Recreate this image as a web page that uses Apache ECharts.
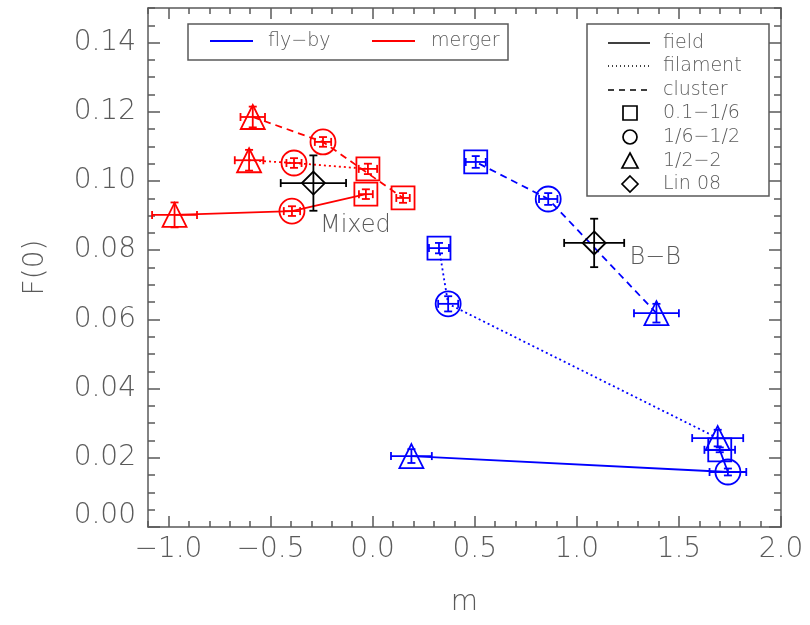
<!DOCTYPE html>
<html>
<head>
<meta charset="utf-8">
<script src="https://cdn.jsdelivr.net/npm/echarts@6/dist/echarts.min.js"></script>
<style>
  html, body { margin: 0; background: #fff; }
  #chart { width: 810px; height: 625px; }
</style>
</head>
<body>
<div id="chart"></div>
<script>
// each row: [m, F(0), m error, F(0) error]
// row order along a line: 1/2-2 (triangle), 1/6-1/2 (circle), 0.1-1/6 (square)
const binSymbols = ['triangle', 'circle', 'rect'];
const binSizes = [24, 25, 23];

const flybyField    = [[0.19, 0.0205, 0.100, 0.0020], [1.74, 0.0159, 0.090, 0.0010], [1.70, 0.0223, 0.075, 0.0007]];
const flybyFilament = [[1.69, 0.0257, 0.125, 0.0024], [0.37, 0.0645, 0.049, 0.0022], [0.325, 0.0806, 0.049, 0.0015]];
const flybyCluster  = [[1.39, 0.0618, 0.110, 0.0027], [0.86, 0.0948, 0.045, 0.0017], [0.505, 0.1055, 0.049, 0.0017]];

const mergerField    = [[-0.97, 0.0902, 0.110, 0.0036], [-0.395, 0.0913, 0.040, 0.0014], [-0.033, 0.0962, 0.034, 0.0014]];
const mergerFilament = [[-0.605, 0.1060, 0.070, 0.0030], [-0.385, 0.1052, 0.037, 0.0014], [-0.023, 0.1035, 0.045, 0.0015]];
const mergerCluster  = [[-0.587, 0.1185, 0.060, 0.0030], [-0.243, 0.1113, 0.040, 0.0014], [0.149, 0.0951, 0.033, 0.0014]];

// Lin 08 points
const lin08Names = ['Mixed', 'B−B'];
const lin08 = [[-0.29, 0.0994, 0.160, 0.0080], [1.085, 0.0821, 0.147, 0.0070]];

const xTicks = [-1.0, -0.5, 0.0, 0.5, 1.0, 1.5, 2.0];
const yTicks = [0.00, 0.02, 0.04, 0.06, 0.08, 0.10, 0.12, 0.14];

const BLUE = '#0000ff', RED = '#ff0000', INK = '#5a5a5a';
const FONT = "'DejaVu Sans', sans-serif";
const LW = 1.8;

const chart = echarts.init(document.getElementById('chart'));

function lineSeries(rows, color, type) {
  return {
    type: 'line', data: rows.map(r => [r[0], r[1]]), showSymbol: false, silent: true, z: 2,
    lineStyle: { color: color, width: LW, type: type }
  };
}

function markerSeries(rows, color) {
  return {
    type: 'scatter', z: 3, silent: true,
    data: rows.map((r, i) => ({ value: [r[0], r[1]], symbol: binSymbols[i], symbolSize: binSizes[i] })),
    itemStyle: { color: 'rgba(0,0,0,0)', borderColor: color, borderWidth: LW, opacity: 1 }
  };
}

function errorSeries(rows, color) {
  return {
    type: 'custom', z: 4, silent: true, data: rows,
    renderItem: function (params, api) {
      const x = api.value(0), y = api.value(1), xe = api.value(2), ye = api.value(3);
      const c = api.coord([x, y]);
      const l = api.coord([x - xe, y])[0], r = api.coord([x + xe, y])[0];
      const t = api.coord([x, y + ye])[1], b = api.coord([x, y - ye])[1];
      const cap = 4;
      const style = { stroke: color, lineWidth: LW };
      const seg = (x1, y1, x2, y2) => ({ type: 'line', shape: { x1, y1, x2, y2 }, style });
      return {
        type: 'group', children: [
          seg(l, c[1], r, c[1]),
          seg(l, c[1] - cap, l, c[1] + cap),
          seg(r, c[1] - cap, r, c[1] + cap),
          seg(c[0], t, c[0], b),
          seg(c[0] - cap, t, c[0] + cap, t),
          seg(c[0] - cap, b, c[0] + cap, b)
        ]
      };
    }
  };
}

const lineStyleInk = { color: INK, width: 1.5 };
const labelFont = { fontFamily: FONT, fontSize: 28, fontWeight: 200, color: INK };

function minorX(pos) {
  return {
    type: 'value', position: pos, min: -1.1, max: 2.0, interval: 0.1,
    axisLine: { show: true, onZero: false, lineStyle: lineStyleInk },
    axisTick: { show: true, inside: true, length: 6, lineStyle: lineStyleInk },
    axisLabel: { show: false }, splitLine: { show: false }
  };
}
function majorX(pos, labels) {
  return {
    type: 'value', position: pos, min: -1.1, max: 2.0,
    axisLine: { show: false, onZero: false },
    axisTick: { show: true, inside: true, length: 11, customValues: xTicks, lineStyle: lineStyleInk },
    axisLabel: Object.assign({
      show: labels, customValues: xTicks, margin: 9,
      formatter: v => (v < 0 ? '−' : '') + Math.abs(v).toFixed(1)
    }, labelFont),
    splitLine: { show: false },
    name: labels ? 'm' : '', nameLocation: 'middle', nameGap: 62,
    nameTextStyle: labelFont
  };
}
function minorY(pos) {
  return {
    type: 'value', position: pos, min: 0, max: 0.15, interval: 0.005,
    axisLine: { show: true, onZero: false, lineStyle: lineStyleInk },
    axisTick: { show: true, inside: true, length: 7, lineStyle: lineStyleInk },
    axisLabel: { show: false }, splitLine: { show: false }
  };
}
function majorY(pos, labels) {
  return {
    type: 'value', position: pos, min: 0, max: 0.15,
    axisLine: { show: false, onZero: false },
    axisTick: { show: true, inside: true, length: 12, customValues: yTicks, lineStyle: lineStyleInk },
    axisLabel: Object.assign({
      show: labels, customValues: yTicks, margin: 12,
      formatter: v => v === 0 ? '{lo|0.00}' : v.toFixed(2),
      rich: { lo: Object.assign({ padding: [0, 0, 22, 0] }, labelFont) }
    }, labelFont),
    splitLine: { show: false },
    name: labels ? 'F(0)' : '', nameLocation: 'middle', nameGap: 98,
    nameTextStyle: labelFont
  };
}

const legendText = { fontFamily: FONT, fontSize: 19, fontWeight: 200, fill: INK, verticalAlign: 'middle' };
const legendRows = [43, 66, 90, 113, 137, 161, 184];
function legendLabel(x, y, text) {
  return { type: 'text', x: x, y: y, style: Object.assign({ text: text }, legendText) };
}
function legendLine(y, dash) {
  return { type: 'line', shape: { x1: 608, y1: y, x2: 650, y2: y }, style: { stroke: '#000', lineWidth: 1.5, lineDash: dash } };
}
const sym = { stroke: '#000', lineWidth: 1.7, fill: 'none' };
const cx = 630;

const graphics = [
  { type: 'rect', shape: { x: 188, y: 24, width: 320, height: 36 }, style: { stroke: INK, lineWidth: 1.5, fill: 'none' } },
  { type: 'line', shape: { x1: 210, y1: 41, x2: 253, y2: 41 }, style: { stroke: BLUE, lineWidth: LW } },
  legendLabel(268, 41, 'fly−by'),
  { type: 'line', shape: { x1: 372, y1: 41, x2: 415, y2: 41 }, style: { stroke: RED, lineWidth: LW } },
  legendLabel(431, 41, 'merger'),

  { type: 'rect', shape: { x: 587, y: 24, width: 182, height: 172 }, style: { stroke: INK, lineWidth: 1.5, fill: 'none' } },
  legendLine(legendRows[0], null), legendLabel(663, legendRows[0], 'field'),
  legendLine(legendRows[1], [1, 3]), legendLabel(663, legendRows[1], 'filament'),
  legendLine(legendRows[2], [6, 5]), legendLabel(663, legendRows[2], 'cluster'),
  { type: 'rect', shape: { x: cx - 7, y: legendRows[3] - 7, width: 14, height: 14 }, style: sym },
  legendLabel(663, legendRows[3], '0.1−1/6'),
  { type: 'circle', shape: { cx: cx, cy: legendRows[4], r: 7 }, style: sym },
  legendLabel(663, legendRows[4], '1/6−1/2'),
  { type: 'polygon', shape: { points: [[cx, legendRows[5] - 8], [cx + 8, legendRows[5] + 7], [cx - 8, legendRows[5] + 7]] }, style: sym },
  legendLabel(663, legendRows[5], '1/2−2'),
  { type: 'polygon', shape: { points: [[cx, legendRows[6] - 8], [cx + 8, legendRows[6]], [cx, legendRows[6] + 8], [cx - 8, legendRows[6]]] }, style: sym },
  legendLabel(663, legendRows[6], 'Lin 08')
];

const option = {
  animation: false,
  backgroundColor: '#fff',
  grid: { left: 148, right: 29, top: 8, bottom: 98, containLabel: false },
  xAxis: [minorX('bottom'), majorX('bottom', true), minorX('top'), majorX('top', false)],
  yAxis: [minorY('left'), majorY('left', true), minorY('right'), majorY('right', false)],
  graphic: graphics,
  series: [
    lineSeries(flybyField, BLUE, 'solid'),
    lineSeries(flybyFilament, BLUE, [2, 3]),
    lineSeries(flybyCluster, BLUE, [7, 5]),
    lineSeries(mergerField, RED, 'solid'),
    lineSeries(mergerFilament, RED, [2, 3]),
    lineSeries(mergerCluster, RED, [7, 5]),
    markerSeries(flybyField, BLUE), markerSeries(flybyFilament, BLUE), markerSeries(flybyCluster, BLUE),
    markerSeries(mergerField, RED), markerSeries(mergerFilament, RED), markerSeries(mergerCluster, RED),
    {
      type: 'scatter', z: 3, silent: true, symbol: 'diamond', symbolSize: 23,
      data: lin08.map((r, i) => ({
        name: lin08Names[i], value: [r[0], r[1]],
        label: { offset: i === 0 ? [42, 43] : [61, 15] }
      })),
      itemStyle: { color: 'rgba(0,0,0,0)', borderColor: '#000', borderWidth: LW, opacity: 1 },
      label: { show: true, position: 'inside', formatter: '{b}', fontFamily: FONT, fontSize: 24, fontWeight: 200, color: INK }
    },
    errorSeries(flybyField, BLUE), errorSeries(flybyFilament, BLUE), errorSeries(flybyCluster, BLUE),
    errorSeries(mergerField, RED), errorSeries(mergerFilament, RED), errorSeries(mergerCluster, RED),
    errorSeries(lin08, '#000')
  ]
};

chart.setOption(option);
</script>
</body>
</html>
